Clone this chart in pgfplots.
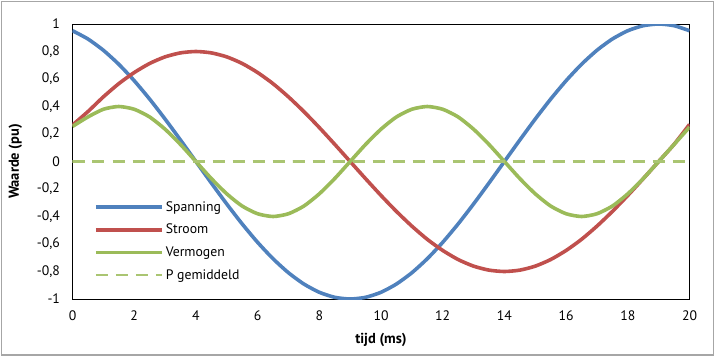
\documentclass[border=0pt]{standalone}
\usepackage{pgfplots}
\pgfplotsset{compat=1.18}
\usepackage{fontspec}
\setmainfont{PT Sans}
\definecolor{xblue}{HTML}{4F81BD}
\definecolor{xred}{HTML}{C0504D}
\definecolor{xgreen}{HTML}{9BBB59}
\begin{document}
\begin{tikzpicture}[x=1bp,y=1bp]
\useasboundingbox (-72.5,-58) rectangle (642.5,299);
\draw[gray!70,line width=1.5bp] (-71,-56) rectangle (641,297.5);
\begin{axis}[
  at={(0,0)}, anchor=south west,
  scale only axis, width=617bp, height=275bp,
  xmin=0, xmax=20, ymin=-1, ymax=1,
  xtick={0,2,...,20},
  ytick={-1,-0.8,-0.6,-0.4,-0.2,0,0.2,0.4,0.6,0.8,1},
  yticklabels={-1,{-0,8},{-0,6},{-0,4},{-0,2},0,{0,2},{0,4},{0,6},{0,8},1},
  major tick length=0pt,
  /pgf/number format/assume math mode=true,
  tick label style={font=\fontsize{13.8}{15}\selectfont},
  xticklabel style={yshift=-8bp},
  yticklabel style={xshift=-9bp},
  axis line style={black, line width=0.9bp},
  xlabel={\textbf{tijd (ms)}},
  ylabel={\textbf{Waarde (pu)}},
  label style={font=\fontsize{14.5}{16}\selectfont},
  xlabel style={yshift=-6bp},
  ylabel style={yshift=8bp},
  legend style={at={(0.03,0.37)}, anchor=north west, draw=none, fill=none,
    font=\fontsize{13.8}{15}\selectfont, row sep=7.5bp,
    legend cell align=left},
  legend image code/.code={\draw[#1,mark=none] (0bp,0bp) -- (66bp,0bp);},
  every axis plot/.append style={line join=round, smooth, tension=0.4},
]
\addplot[xblue, line width=3.6bp] coordinates {
(0,0.9511)(0.5,0.8910)(1,0.8090)(1.5,0.7071)(2,0.5878)(2.5,0.4540)(3,0.3090)(3.5,0.1564)(4,0)
(4.5,-0.1564)(5,-0.3090)(5.5,-0.4540)(6,-0.5878)(6.5,-0.7071)(7,-0.8090)(7.5,-0.8910)(8,-0.9511)(8.5,-0.9877)(9,-1)
(9.5,-0.9877)(10,-0.9511)(10.5,-0.8910)(11,-0.8090)(11.5,-0.7071)(12,-0.5878)(12.5,-0.4540)(13,-0.3090)(13.5,-0.1564)(14,0)
(14.5,0.1564)(15,0.3090)(15.5,0.4540)(16,0.5878)(16.5,0.7071)(17,0.8090)(17.5,0.8910)(18,0.9511)(18.5,0.9877)(19,1)
(19.5,0.9877)(20,0.9511)};
\addlegendentry{Spanning}
\addplot[xred, line width=3.6bp] coordinates {
(0,0.265)(0.5,0.363)(1,0.470)(1.5,0.566)(2,0.647)(2.5,0.713)(3,0.761)(3.5,0.790)(4,0.800)
(4.5,0.790)(5,0.761)(5.5,0.713)(6,0.647)(6.5,0.566)(7,0.470)(7.5,0.363)(8,0.247)(8.5,0.125)(9,0)
(9.5,-0.125)(10,-0.247)(10.5,-0.363)(11,-0.470)(11.5,-0.566)(12,-0.647)(12.5,-0.713)(13,-0.761)(13.5,-0.790)(14,-0.800)
(14.5,-0.790)(15,-0.761)(15.5,-0.713)(16,-0.647)(16.5,-0.566)(17,-0.470)(17.5,-0.363)(18,-0.247)(18.5,-0.125)(19,0)
(19.5,0.125)(20,0.270)};
\addlegendentry{Stroom}
\addplot[xgreen, line width=3.6bp] coordinates {
(0,0.255)(0.5,0.324)(1,0.380)(1.5,0.400)(2,0.380)(2.5,0.324)(3,0.235)(3.5,0.124)(4,0)
(4.5,-0.124)(5,-0.235)(5.5,-0.324)(6,-0.380)(6.5,-0.400)(7,-0.380)(7.5,-0.324)(8,-0.235)(8.5,-0.124)(9,0)
(9.5,0.124)(10,0.235)(10.5,0.324)(11,0.380)(11.5,0.400)(12,0.380)(12.5,0.324)(13,0.235)(13.5,0.124)(14,0)
(14.5,-0.124)(15,-0.235)(15.5,-0.324)(16,-0.380)(16.5,-0.400)(17,-0.380)(17.5,-0.324)(18,-0.235)(18.5,-0.124)(19,0)
(19.5,0.124)(20,0.250)};
\addlegendentry{Vermogen}
\addplot[xgreen!85!white, line width=2.6bp, dash pattern=on 12bp off 8bp] coordinates {
(0,0)(2,0)(4,0)(6,0)(8,0)(10,0)(12,0)(14,0)(16,0)(18,0)(20,0)};
\addlegendentry{P gemiddeld}
\end{axis}
\end{tikzpicture}
\end{document}
